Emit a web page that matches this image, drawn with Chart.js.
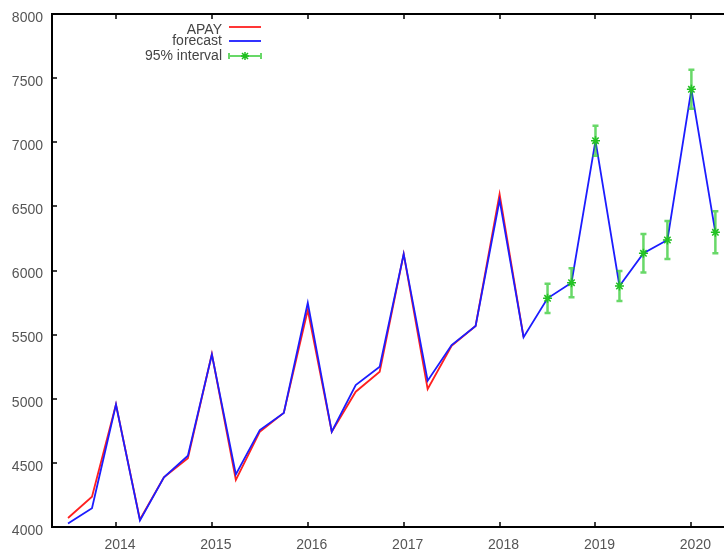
<!DOCTYPE html>
<html>
<head>
<meta charset="utf-8">
<title>APAY forecast</title>
<script src="https://cdn.jsdelivr.net/npm/chart.js@4.4.1/dist/chart.umd.min.js"></script>
<style>
  html, body { margin: 0; padding: 0; background: #fff; overflow: hidden; }
  #wrap { width: 724px; height: 553px; }
</style>
</head>
<body>
<div id="wrap"><canvas id="chart" width="724" height="553"></canvas></div>
<script>
// quarterly time axis (decimal years)
const quarters = [
  2013.5, 2013.75, 2014, 2014.25, 2014.5, 2014.75, 2015, 2015.25, 2015.5, 2015.75,
  2016, 2016.25, 2016.5, 2016.75, 2017, 2017.25, 2017.5, 2017.75, 2018, 2018.25,
  2018.5, 2018.75, 2019, 2019.25, 2019.5, 2019.75, 2020, 2020.25
]

// observed series (ends 2018.25)
const apay = [
  4070, 4236, 4955, 4058, 4388, 4536, 5349, 4367, 4743, 4890,
  5692, 4743, 5055, 5211, 6129, 5076, 5412, 5567, 6597, 5480
]

// fitted + forecast series
const forecast = [
  4028, 4146, 4955, 4052, 4388, 4556, 5345, 4410, 4756, 4890,
  5749, 4743, 5107, 5250, 6129, 5141, 5419, 5567, 6550, 5480,
  5783, 5905, 7012, 5879, 6134, 6238, 7413, 6298
]

// 95% interval: centre and half width
const intervalQuarters = [2018.5, 2018.75, 2019, 2019.25, 2019.5, 2019.75, 2020, 2020.25]
const intervalCenter = [5783, 5905, 7012, 5879, 6134, 6238, 7413, 6298]
const intervalHalf = [114, 113, 117, 117, 150, 148, 152, 164]

const yearTicks = [2014, 2015, 2016, 2017, 2018, 2019, 2020]
const valueTicks = [4000, 4500, 5000, 5500, 6000, 6500, 7000, 7500, 8000]
const legendLabels = ['APAY', 'forecast', '95% interval']

const RED = '#ff2020'
const BLUE = '#1c1cff'
const GREEN = '#1fbf1f'
const GREEN_BAR = 'rgba(40, 200, 40, 0.7)'

function toPoints(xs, ys) {
  return ys.map((v, i) => ({ x: xs[i], y: v }))
}

// gnuplot style border with inward ticks
const framePlugin = {
  id: 'frame',
  beforeDatasetsDraw(chart) {
    const { ctx, chartArea: a, scales } = chart
    ctx.save()
    ctx.strokeStyle = '#000'
    ctx.lineWidth = 2
    ctx.beginPath()
    ctx.moveTo(a.right + 2, a.top)
    ctx.lineTo(a.left, a.top)
    ctx.lineTo(a.left, a.bottom)
    ctx.lineTo(a.right + 2, a.bottom)
    ctx.stroke()
    ctx.lineWidth = 1.5
    ctx.beginPath()
    yearTicks.forEach((v) => {
      const px = Math.round(scales.x.getPixelForValue(v))
      ctx.moveTo(px, a.bottom)
      ctx.lineTo(px, a.bottom - 5)
      ctx.moveTo(px, a.top)
      ctx.lineTo(px, a.top + 5)
    })
    valueTicks.forEach((v) => {
      const py = Math.round(scales.y.getPixelForValue(v))
      ctx.moveTo(a.left, py)
      ctx.lineTo(a.left + 5, py)
    })
    ctx.stroke()
    ctx.restore()
  },
}

function drawErrorBar(ctx, px, top, bottom) {
  ctx.beginPath()
  ctx.moveTo(px, top)
  ctx.lineTo(px, bottom)
  ctx.moveTo(px - 3, top)
  ctx.lineTo(px + 3, top)
  ctx.moveTo(px - 3, bottom)
  ctx.lineTo(px + 3, bottom)
  ctx.stroke()
}

// error bars for the interval series
const errorBarPlugin = {
  id: 'errorBars',
  afterDatasetsDraw(chart) {
    const { ctx, scales } = chart
    ctx.save()
    ctx.strokeStyle = GREEN_BAR
    ctx.lineWidth = 2.5
    intervalQuarters.forEach((q, i) => {
      const px = scales.x.getPixelForValue(q)
      const top = scales.y.getPixelForValue(intervalCenter[i] + intervalHalf[i])
      const bottom = scales.y.getPixelForValue(intervalCenter[i] - intervalHalf[i])
      drawErrorBar(ctx, px, top, bottom)
    })
    ctx.restore()
  },
}

// key in the top left, text right aligned like gnuplot
const keyPlugin = {
  id: 'key',
  afterDraw(chart) {
    const { ctx } = chart
    const textRight = 222
    const x0 = 229
    const x1 = 261
    const rows = [27, 41, 56]
    ctx.save()
    ctx.font = '14px "Liberation Sans", Arial, sans-serif'
    ctx.fillStyle = '#444'
    ctx.textAlign = 'right'
    ctx.textBaseline = 'middle'
    legendLabels.forEach((label, i) => {
      ctx.fillText(label, textRight, rows[i] + (i === 0 ? 3 : 0))
    })
    ctx.lineWidth = 1.8
    ctx.strokeStyle = RED
    ctx.beginPath()
    ctx.moveTo(x0, rows[0])
    ctx.lineTo(x1, rows[0])
    ctx.stroke()
    ctx.strokeStyle = BLUE
    ctx.beginPath()
    ctx.moveTo(x0, rows[1])
    ctx.lineTo(x1, rows[1])
    ctx.stroke()
    // interval sample: horizontal bar with caps and a star
    ctx.strokeStyle = GREEN_BAR
    ctx.lineWidth = 2
    ctx.beginPath()
    ctx.moveTo(x0, rows[2])
    ctx.lineTo(x1, rows[2])
    ctx.moveTo(x0, rows[2] - 3)
    ctx.lineTo(x0, rows[2] + 3)
    ctx.moveTo(x1, rows[2] - 3)
    ctx.lineTo(x1, rows[2] + 3)
    ctx.stroke()
    const cx = (x0 + x1) / 2
    ctx.strokeStyle = GREEN
    ctx.lineWidth = 1.5
    ctx.beginPath()
    ctx.moveTo(cx - 4, rows[2])
    ctx.lineTo(cx + 4, rows[2])
    ctx.moveTo(cx, rows[2] - 4)
    ctx.lineTo(cx, rows[2] + 4)
    ctx.moveTo(cx - 3, rows[2] - 3)
    ctx.lineTo(cx + 3, rows[2] + 3)
    ctx.moveTo(cx - 3, rows[2] + 3)
    ctx.lineTo(cx + 3, rows[2] - 3)
    ctx.stroke()
    ctx.restore()
  },
}

Chart.defaults.font.family = '"Liberation Sans", Arial, sans-serif'
Chart.defaults.font.size = 14
Chart.defaults.color = '#555'

new Chart(document.getElementById('chart'), {
  type: 'line',
  data: {
    datasets: [
      {
        label: legendLabels[2],
        data: toPoints(intervalQuarters, intervalCenter),
        showLine: false,
        pointStyle: 'star',
        pointRadius: 4.5,
        borderColor: GREEN,
        backgroundColor: GREEN,
        pointBorderWidth: 1.5,
        order: 0,
      },
      {
        label: legendLabels[1],
        data: toPoints(quarters, forecast),
        borderColor: BLUE,
        borderWidth: 1.8,
        pointRadius: 0,
        tension: 0,
        order: 1,
      },
      {
        label: legendLabels[0],
        data: toPoints(quarters, apay),
        borderColor: RED,
        borderWidth: 1.8,
        pointRadius: 0,
        tension: 0,
        order: 2,
      },
    ],
  },
  options: {
    responsive: false,
    animation: false,
    events: [],
    devicePixelRatio: 1,
    layout: { autoPadding: false, padding: { top: 14, right: 0, left: 0, bottom: 0 } },
    scales: {
      x: {
        type: 'linear',
        min: 2013.333,
        max: 2020.34,
        afterBuildTicks: (scale) => {
          scale.ticks = yearTicks.map((v) => ({ value: v }))
        },
        afterFit: (scale) => {
          scale.height = 26
          scale.paddingLeft = 0
          scale.paddingRight = 0
        },
        ticks: {
          padding: 10,
          labelOffset: 4,
          autoSkip: false,
          maxRotation: 0,
          callback: (v) => String(v),
        },
        grid: { display: false, drawTicks: false },
        border: { display: false },
      },
      y: {
        min: 4000,
        max: 8000,
        afterBuildTicks: (scale) => {
          scale.ticks = valueTicks.map((v) => ({ value: v }))
        },
        afterFit: (scale) => {
          scale.width = 52
          scale.paddingTop = 0
          scale.paddingBottom = 0
        },
        ticks: {
          padding: 9,
          labelOffset: 4,
          callback: (v) => String(v),
        },
        grid: { display: false, drawTicks: false },
        border: { display: false },
      },
    },
    plugins: {
      legend: { display: false },
      tooltip: { enabled: false },
    },
  },
  plugins: [framePlugin, errorBarPlugin, keyPlugin],
})
</script>
</body>
</html>
